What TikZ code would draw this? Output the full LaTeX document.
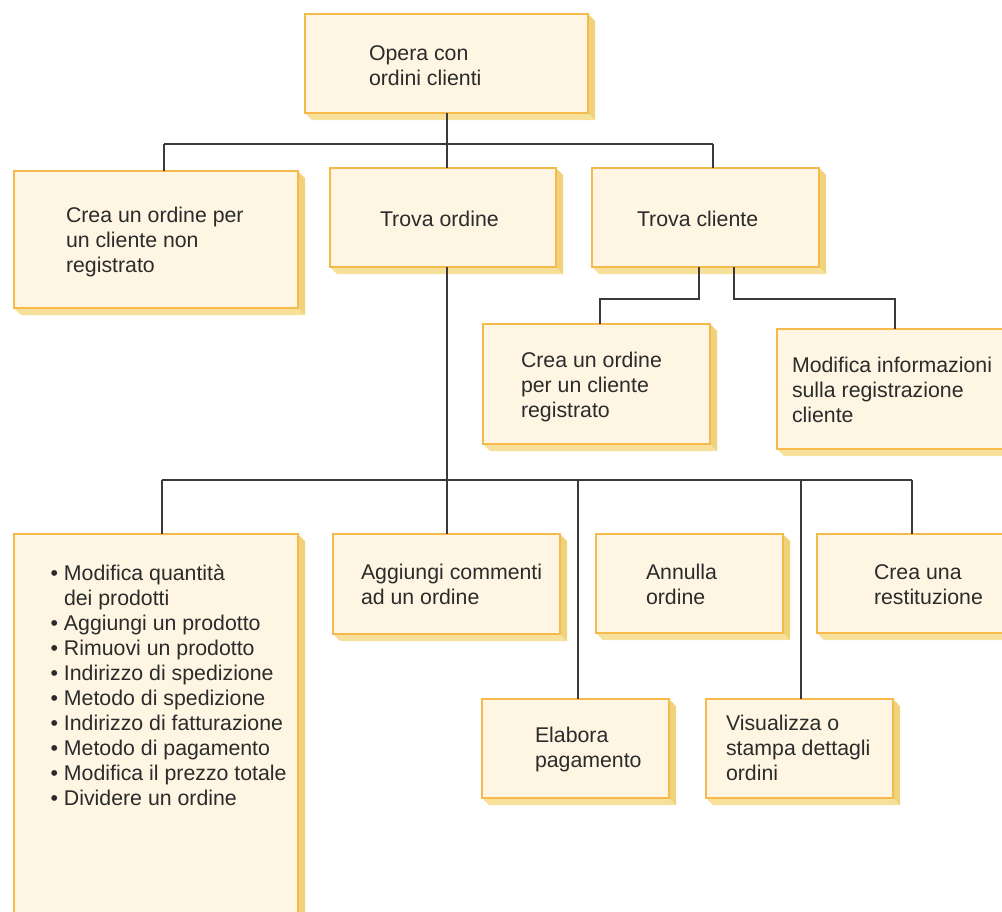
\documentclass[tikz,border=0pt]{standalone}
\usepackage{fontspec}
\setmainfont{Liberation Sans}
\definecolor{boxfill}{HTML}{FEF5E3}
\definecolor{boxedge}{HTML}{F5BA4B}
\definecolor{shadB}{HTML}{F7E09A}
\definecolor{shadR}{HTML}{F0D27C}
\definecolor{linec}{HTML}{3A3A3A}
\definecolor{textc}{HTML}{2B2B2B}
\tikzset{
  conn/.style={draw=linec, line width=1.3pt},
  boxst/.style={draw=boxedge, fill=boxfill, line width=1.4pt, inner sep=0pt, outer sep=0pt, rectangle, anchor=north west},
  txt/.style={anchor=north west, inner sep=0pt, outer sep=0pt, align=left, text=textc, font=\fontsize{21.3}{25}\selectfont},
}
\newcommand\ybox[5]{%
  \fill[shadB] (#2,#5) -- (#2+7,#5+7) -- (#4+7,#5+7) -- (#4,#5) -- cycle;
  \fill[shadR] (#4,#3) -- (#4+7,#3+7) -- (#4+7,#5+7) -- (#4,#5) -- cycle;
  \node[boxst, minimum width={(#4-#2)*1pt}, minimum height={(#5-#3)*1pt}] (#1) at (#2,#3) {};
}
\newcommand\bul{\llap{•\hspace{6pt}}}
\begin{document}
\begin{tikzpicture}[x=1pt,y=-1pt]
\clip (0,0) rectangle (1002,911);
% boxes
\ybox{top}{305}{14}{588}{113}
\ybox{c1}{14}{171}{298}{308}
\ybox{to}{330}{168}{556}{267}
\ybox{tc}{592}{168}{819}{267}
\ybox{cr}{483}{324}{710}{444}
\ybox{mi}{777}{329}{1015}{449}
\ybox{lst}{14}{534}{298}{925}
\ybox{ag}{333}{534}{560}{634}
\ybox{an}{596}{534}{783}{633}
\ybox{rs}{817}{534}{1015}{633}
\ybox{el}{482}{699}{669}{798}
\ybox{vi}{706}{699}{893}{798}
% texts
\node[txt] (t-top) at (369,60-17.5) {\strut Opera con\\ordini clienti};
\node[txt] (t-c1) at (66,222-17.5) {\strut Crea un ordine per\\un cliente non\\registrato};
\node[txt] (t-to) at (380,226-17.5) {\strut Trova ordine};
\node[txt] (t-tc) at (637,226-17.5) {\strut Trova cliente};
\node[txt] (t-cr) at (521,367-17.5) {\strut Crea un ordine\\per un cliente\\registrato};
\node[txt] (t-mi) at (792,372-17.5) {\strut Modifica informazioni\\sulla registrazione\\cliente};
\node[txt] (t-ag) at (361,579-17.5) {\strut Aggiungi commenti\\ad un ordine};
\node[txt] (t-an) at (646,579-17.5) {\strut Annulla\\ordine};
\node[txt] (t-rs) at (874,579-17.5) {\strut Crea una\\restituzione};
\node[txt] (t-el) at (535,742-17.5) {\strut Elabora\\pagamento};
\node[txt] (t-vi) at (726,730-17.5) {\strut Visualizza o\\stampa dettagli\\ordini};
\node[txt] (t-lst) at (64,580-17.5) {\strut\bul Modifica quantità\\dei prodotti\\\bul Aggiungi un prodotto\\\bul Rimuovi un prodotto\\\bul Indirizzo di spedizione\\\bul Metodo di spedizione\\\bul Indirizzo di fatturazione\\\bul Metodo di pagamento\\\bul Modifica il prezzo totale\\\bul Dividere un ordine};
% connector junctions
\coordinate (b1l) at (164,144);
\coordinate (b1m) at (447,144);
\coordinate (b1r) at (713,144);
\coordinate (q1) at (699,299);
\coordinate (q2) at (734,299);
\coordinate (crt) at (600,324);
\coordinate (mit) at (895,329);
\coordinate (b2l) at (162,480);
\coordinate (b2m) at (447,480);
\coordinate (b2a) at (578,480);
\coordinate (b2b) at (801,480);
\coordinate (b2r) at (912,480);
% connectors
\draw[conn] (b1l) -- (b1r);
\draw[conn] (top.south -| b1m) -- (to.north -| b1m);
\draw[conn] (b1l) -- (b1l |- c1.north);
\draw[conn] (b1r) -- (b1r |- tc.north);
\draw[conn] (tc.south -| q1) -- (q1) -| (crt);
\draw[conn] (tc.south -| q2) -- (q2) -| (mit);
\draw[conn] (b2l) -- (b2r);
\draw[conn] (to.south -| b2m) -- (ag.north -| b2m);
\draw[conn] (b2l) -- (b2l |- lst.north);
\draw[conn] (b2a) -- (b2a |- el.north);
\draw[conn] (b2b) -- (b2b |- vi.north);
\draw[conn] (b2r) -- (b2r |- rs.north);
\end{tikzpicture}
\end{document}
